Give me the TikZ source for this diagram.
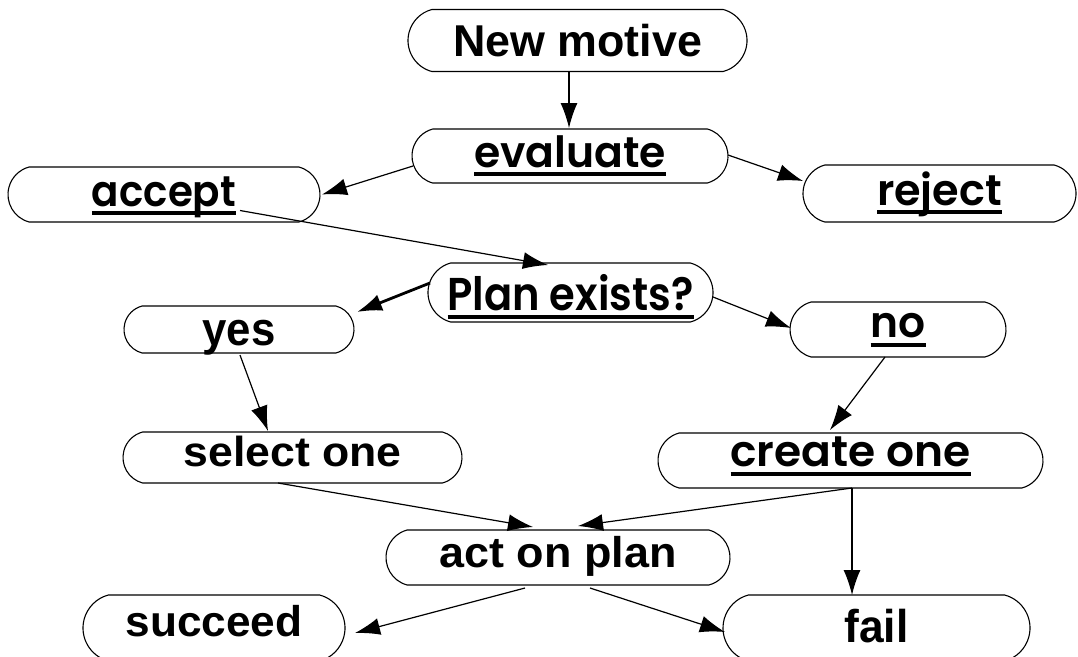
\documentclass[tikz,border=0pt]{standalone}
\usepackage{fontspec}
\usepackage{graphicx}
\usetikzlibrary{arrows.meta,calc,shapes.misc}
\newfontfamily\hvfont{Liberation Sans}[UprightFont=* Bold]
\newfontfamily\geofont{Poppins}[UprightFont=* SemiBold]
\newcommand\tx[4]{{#1\fontsize{#2}{#2}\selectfont\resizebox{#3}{\height}{#4}}}
\newcommand\ulx[1]{\setbox0=\hbox{#1}\rlap{\vrule height -5pt depth 9pt width \wd0}\box0}
\tikzset{
  box/.style={draw, rounded rectangle, rounded rectangle arc length=150, inner sep=0pt, line width=1.1pt},
  bl/.style={text height=#1, text depth=0pt},
  conn/.style={line width=1.2pt, -{Latex[length=25pt,width=17pt]}},
  thickconn/.style={line width=2.8pt, -{Latex[length=25pt,width=17pt]}}
}
\begin{document}
\begin{tikzpicture}[x=1pt,y=-1pt]
\useasboundingbox (0,0) rectangle (1078,656);
\clip (0,0) rectangle (1078,656);
\node[box, minimum width=339pt, minimum height=62pt, bl=31pt] (nm) at (577.5,40.5) {\tx{\hvfont}{44.6}{249pt}{New motive}};
\node[box, minimum width=316pt, minimum height=54pt, bl=22pt] (ev) at (570,156) {\ulx{\tx{\geofont}{43}{192pt}{evaluate}}};
\node[box, minimum width=312pt, minimum height=55pt, bl=23pt] (ac) at (164,194.5) {\ulx{\tx{\geofont}{43}{144pt}{accept}}};
\node[box, minimum width=273pt, minimum height=57pt, bl=23pt] (rj) at (939.5,193.5) {\ulx{\tx{\geofont}{43}{125pt}{reject}}};
\node[box, minimum width=285pt, minimum height=59pt, bl=35pt] (pe) at (570.5,292.5) {\ulx{\tx{\geofont}{46}{246pt}{Plan exists?}}};
\node[box, minimum width=230pt, minimum height=47pt, bl=31pt] (yes) at (239,329.5) {\tx{\hvfont}{47}{73pt}{yes}};
\node[box, minimum width=216pt, minimum height=55pt, bl=16pt] (no) at (898,329.5) {\ulx{\tx{\geofont}{43}{55pt}{no}}};
\node[box, minimum width=339pt, minimum height=51pt, bl=17pt] (sel) at (292.5,457.5) {\tx{\hvfont}{42}{218pt}{select one}};
\node[box, minimum width=385pt, minimum height=55pt, bl=12pt] (cr) at (850.5,460.5) {\ulx{\tx{\geofont}{43}{240pt}{create one}}};
\node[box, minimum width=344pt, minimum height=55pt, bl=20pt] (act) at (558,557.5) {\tx{\hvfont}{43}{237pt}{act on plan}};
\node[box, minimum width=262pt, minimum height=66pt, bl=16pt] (suc) at (214,628) {\tx{\hvfont}{43}{177pt}{succeed}};
\node[box, minimum width=307pt, minimum height=66pt, bl=28pt] (fail) at (876.5,628) {\tx{\hvfont}{46}{64pt}{fail}};
% connectors
\draw[conn] ($(nm.center)+(-8.5,31.2)$) -- ($(ev.center)+(-1,-28)$);
\draw[conn] ($(ev.center)+(-157,10)$) -- ($(ac.center)+(158,0)$);
\draw[conn] ($(ev.center)+(158,-1)$) -- ($(rj.center)+(-136.5,-12.5)$);
\draw[conn] ($(ac.center)+(76,16)$) -- ($(pe.center)+(-22.5,-27.5)$);
\draw[thickconn] ($(pe.center)+(-140.5,-9.5)$) -- ($(yes.center)+(118,-17.5)$);
\draw[conn] ($(pe.center)+(142.5,4.5)$) -- ($(no.center)+(-107,-1.5)$);
\draw[conn] ($(yes.center)+(1,25.5)$) -- ($(sel.center)+(-24.5,-26.5)$);
\draw[conn] ($(no.center)+(-13,27.5)$) -- ($(cr.center)+(-20.5,-30.5)$);
\draw[conn] ($(sel.center)+(-14.5,25.5)$) -- ($(act.center)+(-25,-30.5)$);
\draw[conn] ($(cr.center)+(1.5,27.5)$) -- ($(act.center)+(20,-31.5)$);
\draw[conn] ($(cr.center)+(1.5,27.5)$) -- ($(fail.center)+(-24.5,-33)$);
\draw[conn] ($(act.center)+(-33,30.5)$) -- ($(suc.center)+(141,5)$);
\draw[conn] ($(act.center)+(32,30.5)$) -- ($(fail.center)+(-151.5,4)$);
\end{tikzpicture}
\end{document}
